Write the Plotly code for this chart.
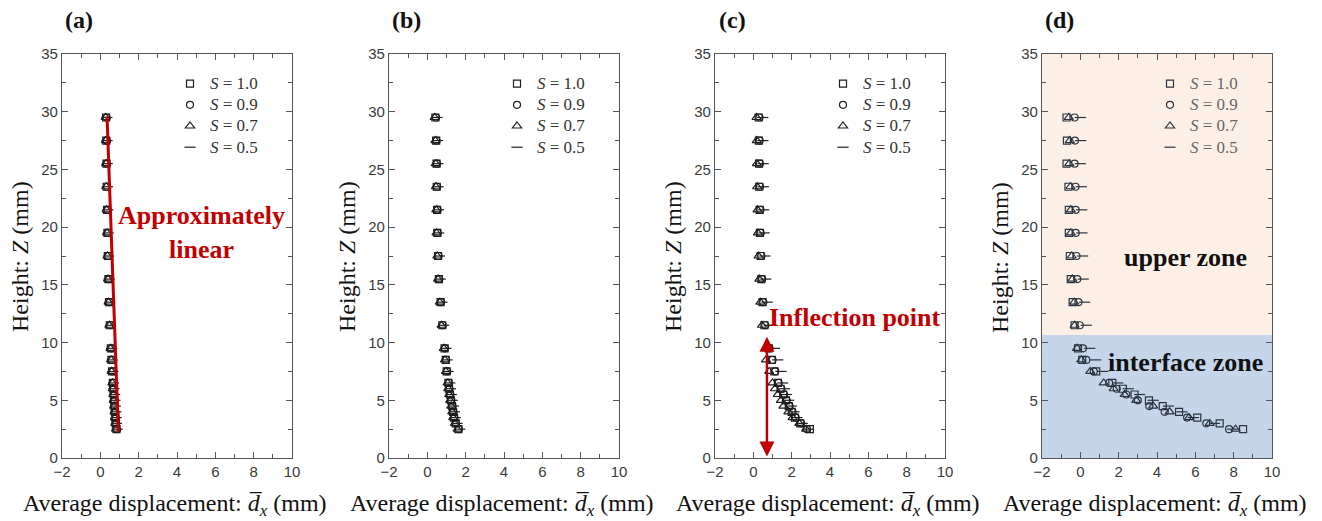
import plotly.graph_objects as go

# ---------------- data ----------------
Z = [29.5, 27.5, 25.5, 23.5, 21.5, 19.5, 17.5, 15.5, 13.5, 11.5, 9.5, 8.5, 7.5,
     6.5, 6.0, 5.5, 5.0, 4.5, 4.0, 3.5, 3.0, 2.5]
series_names = ["<i>S</i> = 1.0", "<i>S</i> = 0.9", "<i>S</i> = 0.7", "<i>S</i> = 0.5"]

# panel (a)
a_s10 = [0.30, 0.31, 0.32, 0.33, 0.35, 0.37, 0.39, 0.42, 0.45, 0.49, 0.55, 0.58, 0.61, 0.65, 0.67, 0.70, 0.72, 0.74, 0.76, 0.78, 0.80, 0.84]
a_s09 = [0.32, 0.33, 0.34, 0.35, 0.37, 0.39, 0.41, 0.44, 0.47, 0.51, 0.57, 0.60, 0.63, 0.67, 0.69, 0.72, 0.74, 0.76, 0.78, 0.80, 0.82, 0.86]
a_s07 = [0.28, 0.29, 0.30, 0.31, 0.33, 0.35, 0.37, 0.40, 0.43, 0.47, 0.53, 0.56, 0.59, 0.63, 0.65, 0.68, 0.70, 0.72, 0.74, 0.76, 0.78, 0.82]
a_s05 = [0.34, 0.35, 0.36, 0.37, 0.39, 0.41, 0.43, 0.46, 0.49, 0.53, 0.59, 0.62, 0.65, 0.69, 0.71, 0.74, 0.76, 0.78, 0.80, 0.82, 0.84, 0.88]
a_fit_x = [0.35, 0.94]
a_fit_z = [29.6, 2.3]

# panel (b)
b_s10 = [0.42, 0.46, 0.48, 0.49, 0.51, 0.52, 0.56, 0.60, 0.69, 0.78, 0.90, 0.96, 1.01, 1.10, 1.13, 1.18, 1.23, 1.29, 1.34, 1.39, 1.48, 1.62]
b_s09 = [0.45, 0.48, 0.50, 0.51, 0.53, 0.54, 0.58, 0.62, 0.71, 0.80, 0.92, 0.98, 1.03, 1.12, 1.15, 1.20, 1.25, 1.31, 1.36, 1.41, 1.50, 1.64]
b_s07 = [0.38, 0.42, 0.44, 0.45, 0.47, 0.48, 0.52, 0.56, 0.65, 0.74, 0.86, 0.92, 0.97, 1.06, 1.09, 1.14, 1.19, 1.25, 1.30, 1.35, 1.44, 1.58]
b_s05 = [0.50, 0.53, 0.55, 0.56, 0.58, 0.59, 0.63, 0.67, 0.76, 0.85, 0.97, 1.03, 1.08, 1.17, 1.20, 1.25, 1.30, 1.36, 1.41, 1.46, 1.55, 1.69]

# panel (c)
c_s10 = [0.28, 0.29, 0.30, 0.31, 0.33, 0.34, 0.38, 0.42, 0.48, 0.58, 0.80, 0.96, 1.10, 1.28, 1.42, 1.56, 1.70, 1.85, 2.00, 2.17, 2.45, 2.95]
c_s09 = [0.32, 0.33, 0.34, 0.35, 0.37, 0.38, 0.42, 0.46, 0.52, 0.62, 0.84, 1.00, 1.14, 1.32, 1.46, 1.60, 1.74, 1.89, 2.04, 2.21, 2.49, 2.80]
c_s07 = [0.17, 0.18, 0.19, 0.20, 0.22, 0.24, 0.27, 0.31, 0.37, 0.45, 0.68, 0.66, 0.83, 1.00, 1.13, 1.27, 1.44, 1.57, 1.83, 2.05, 2.40, 2.75]
c_s05 = [0.49, 0.50, 0.51, 0.52, 0.54, 0.56, 0.60, 0.65, 0.72, 0.83, 1.10, 1.27, 1.44, 1.53, 1.62, 1.72, 1.84, 1.98, 2.12, 2.28, 2.55, 2.85]

# panel (d)
d_s10 = [-0.72, -0.70, -0.72, -0.62, -0.60, -0.60, -0.55, -0.50, -0.40, -0.30, -0.12, 0.10, 0.83, 1.67, 2.22, 2.83, 3.58, 4.30, 5.15, 6.10, 7.27, 8.49]
d_s09 = [-0.30, -0.28, -0.30, -0.25, -0.24, -0.24, -0.20, -0.16, -0.10, -0.03, 0.14, 0.31, 0.70, 1.50, 1.90, 2.40, 3.00, 3.60, 4.40, 5.57, 6.57, 7.76]
d_s07 = [-0.60, -0.55, -0.58, -0.52, -0.50, -0.50, -0.45, -0.42, -0.32, -0.30, -0.17, 0.05, 0.52, 1.22, 1.74, 2.31, 2.92, 3.80, 4.66, 5.67, 6.75, 8.10]
d_s05 = [0.00, 0.02, 0.00, 0.05, 0.07, 0.08, 0.12, 0.15, 0.22, 0.31, 0.49, 0.80, 1.18, 1.95, 2.50, 3.10, 3.80, 4.60, 5.30, 5.90, 7.00, 7.95]
d_interface_top = 10.65

panels = [
    dict(label="(a)", data=[a_s10, a_s09, a_s07, a_s05]),
    dict(label="(b)", data=[b_s10, b_s09, b_s07, b_s05]),
    dict(label="(c)", data=[c_s10, c_s09, c_s07, c_s05]),
    dict(label="(d)", data=[d_s10, d_s09, d_s07, d_s05]),
]

x_ticks = [-2, 0, 2, 4, 6, 8, 10]
y_ticks = [0, 5, 10, 15, 20, 25, 30, 35]
symbols = ["square-open", "circle-open", "triangle-up-open", "line-ew-open"]
sizes = [7, 7, 8, 8]

# ---------------- layout geometry ----------------
W, H = 1322, 521


def fx(px):
    return px / W


def fy(py):
    return 1 - py / H


left_px = [62, 389, 715, 1042]
plot_w = 230
top_px, bot_px = 54, 458
ydom = [fy(bot_px), fy(top_px)]

fig = go.Figure()
serif = "Liberation Serif, Times New Roman, serif"
sans = "Liberation Sans, Arial, sans-serif"

for i, p in enumerate(panels):
    n = i + 1
    xa = "x" if n == 1 else f"x{n}"
    ya = "y" if n == 1 else f"y{n}"
    leg = "legend" if n == 1 else f"legend{n}"
    mcol = "#1e1e1e" if n < 4 else "#2b3440"
    for s, vals in enumerate(p["data"]):
        fig.add_trace(go.Scatter(
            x=vals, y=Z, mode="markers",
            name=f"<span style='font-size:17px'>{series_names[s]}</span>",
            xaxis=xa, yaxis=ya, legend=leg,
            marker=dict(symbol=symbols[s], size=sizes[s],
                        color=mcol, line=dict(width=1.2, color=mcol)),
        ))
    dom = [fx(left_px[i]), fx(left_px[i] + plot_w)]
    axis_common = dict(showline=True, linecolor="#555", linewidth=1.3, mirror="ticks",
                       ticks="inside", ticklen=6, tickwidth=1.2, tickcolor="#555",
                       showgrid=False, zeroline=False, automargin=False,
                       tickfont=dict(family=sans, size=15, color="#3a3a3a"))
    fig.layout[("xaxis" if n == 1 else f"xaxis{n}")] = dict(
        domain=dom, anchor=ya, range=[-2, 10], tickvals=x_ticks,
        minor=dict(ticks="inside", ticklen=3.5, tickwidth=1.1, tickcolor="#555", dtick=1),
        **axis_common)
    fig.layout[("yaxis" if n == 1 else f"yaxis{n}")] = dict(
        domain=ydom, anchor=xa, range=[0, 35], tickvals=y_ticks,
        minor=dict(ticks="inside", ticklen=3.5, tickwidth=1.1, tickcolor="#555", dtick=2.5),
        **axis_common)
    # legend
    fig.layout[leg] = dict(
        x=fx(left_px[i] + 108), y=fy(68), xanchor="left", yanchor="top",
        bgcolor="rgba(0,0,0,0)", borderwidth=0,
        font=dict(family=serif, size=14, color="#333" if n < 4 else "#666"),
        itemwidth=30, tracegroupgap=0,
    )
    # panel label
    fig.add_annotation(text=f"<b>{p['label']}</b>", xref="paper", yref="paper",
                       xanchor="center", yanchor="middle",
                       x=fx(left_px[i] + 17), y=fy(20), showarrow=False,
                       font=dict(family=serif, size=24, color="#111"))
    # axis titles
    fig.add_annotation(text="Height: <i>Z</i> (mm)", xref="paper", yref="paper",
                       xanchor="center", yanchor="middle",
                       x=fx(left_px[i] - 42), y=fy(257), textangle=-90, showarrow=False,
                       font=dict(family=serif, size=24, color="#111"))
    fig.add_annotation(text="Average displacement: <i>d\u0305</i><sub><i>x</i></sub> (mm)",
                       xref="paper", yref="paper", xanchor="center", yanchor="middle",
                       x=fx(left_px[i] + 113), y=fy(505), showarrow=False,
                       font=dict(family=serif, size=24, color="#111"))

# panel (a) linear fit line
fig.add_trace(go.Scatter(x=a_fit_x, y=a_fit_z, mode="lines", xaxis="x", yaxis="y",
                         line=dict(color="#c00000", width=3), showlegend=False))
fig.add_annotation(text="<b>Approximately<br>linear</b>", xref="x", yref="y",
                   x=5.3, y=19.5, showarrow=False,
                   font=dict(family=serif, size=26, color="#c00000"))

# panel (c) inflection arrow
fig.add_annotation(text="", xref="x3", yref="y3", axref="x3", ayref="y3",
                   x=0.71, y=10.5, ax=0.71, ay=0.0, showarrow=True,
                   arrowhead=2, startarrowhead=2, arrowside="end+start",
                   arrowsize=1.2, arrowwidth=2.5, arrowcolor="#c00000")
fig.add_annotation(text="<b>Inflection point</b>", xref="x3", yref="y3",
                   x=5.3, y=12.2, showarrow=False,
                   font=dict(family=serif, size=26, color="#c00000"))

# panel (d) zones
fig.add_shape(type="rect", xref="x4 domain", yref="y4", x0=0, x1=1, y0=0, y1=d_interface_top,
              fillcolor="#c6d6ea", line=dict(width=0), layer="below")
fig.add_shape(type="rect", xref="x4 domain", yref="y4", x0=0, x1=1, y0=d_interface_top, y1=35,
              fillcolor="#fcf0e6", line=dict(width=0), layer="below")
fig.add_annotation(text="<b>upper zone</b>", xref="x4", yref="y4", x=5.5, y=17.4,
                   showarrow=False, font=dict(family=serif, size=26, color="#111"))
fig.add_annotation(text="<b>interface zone</b>", xref="x4", yref="y4", x=5.5, y=8.3,
                   showarrow=False, font=dict(family=serif, size=26, color="#111"))

fig.update_layout(width=W, height=H,
                  margin=dict(l=0, r=0, t=0, b=0, pad=0, autoexpand=False),
                  plot_bgcolor="white", paper_bgcolor="white")
fig.write_html("out.html")
